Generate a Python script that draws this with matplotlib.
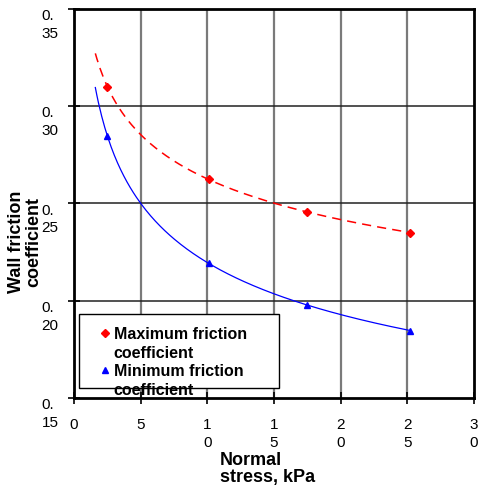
import numpy as np
import matplotlib.pyplot as plt
from matplotlib.lines import Line2D
from matplotlib.patches import Rectangle

plt.rcParams['font.family'] = ['Liberation Sans', 'DejaVu Sans']

# measured wall friction data
stress = [2.5, 10.1, 17.5, 25.2]
mu_max = [0.310, 0.2626, 0.2457, 0.2349]
mu_min = [0.2847, 0.2193, 0.1980, 0.1845]

x_ticks = [0, 5, 10, 15, 20, 25, 30]
x_ticklabels = ['0', '5', '1\n0', '1\n5', '2\n0', '2\n5', '3\n0']
y_ticks = [0.15, 0.20, 0.25, 0.30, 0.35]
y_ticklabels = ['0.\n15', '0.\n20', '0.\n25', '0.\n30', '0.\n35']

# power law trend lines  y = a * x^b
def power_fit(x, y):
    b, ln_a = np.polyfit(np.log(x), np.log(y), 1)
    return np.exp(ln_a), b

xfit = np.linspace(1.6, stress[-1], 200)
a1, b1 = power_fit(stress, mu_max)
a2, b2 = power_fit(stress, mu_min)

fig = plt.figure(figsize=(4.79, 4.94), dpi=100)
ax = fig.add_axes([74/479, 1 - 398/494, 400/479, 389/494])

for xv in x_ticks[1:-1]:
    ax.axvline(xv, color='#7a7a7a', lw=1.6, zorder=1)
for yv in y_ticks[1:-1]:
    ax.axhline(yv, color='#222222', lw=1.1, zorder=1)

ax.plot(xfit, a1 * xfit**b1, color='red', ls=(0, (6, 4)), lw=1.1, zorder=3)
ax.plot(xfit, a2 * xfit**b2, color='blue', lw=0.9, zorder=3)
ax.plot(stress, mu_max, ls='none', marker='D', ms=4, color='red', zorder=4)
ax.plot(stress, mu_min, ls='none', marker='^', ms=5, color='blue', zorder=4)

ax.set_xlim(0, 30)
ax.set_ylim(0.15, 0.35)
ax.set_xticks(x_ticks)
ax.set_xticklabels(x_ticklabels, fontsize=11, linespacing=1.35)
ax.set_yticks(y_ticks)
ax.set_yticklabels(y_ticklabels, fontsize=11, va='top', multialignment='left',
                   linespacing=1.35)
ax.tick_params(axis='both', direction='inout', length=9, width=1.2)
ax.tick_params(axis='x', pad=10)
ax.tick_params(axis='y', pad=6.5)
for s in ax.spines.values():
    s.set_linewidth(2)

fig.text(220/479, 1 - 452/494, 'Normal\nstress, kPa', fontsize=13,
         fontweight='bold', ha='left', va='top', linespacing=1.0)
fig.text(25/479, 1 - 242/494, 'Wall friction\ncoefficient', fontsize=13,
         fontweight='bold', rotation=90, ha='center', va='center',
         linespacing=1.0)

# legend box
fig.add_artist(Rectangle((79/479, 1 - 388/494), 200/479, 74/494,
                         transform=fig.transFigure, facecolor='white',
                         edgecolor='black', lw=1.0, zorder=5))
blank = Line2D([], [], ls='none', marker='none')
handles = [Line2D([], [], ls='none', marker='D', ms=4, color='red'), blank,
           Line2D([], [], ls='none', marker='^', ms=5, color='blue'), blank]
labels = ['Maximum friction', 'coefficient', 'Minimum friction', 'coefficient']
leg = fig.legend(handles, labels,
                 loc='upper left', bbox_to_anchor=(101/479, 1 - 327/494),
                 frameon=False, borderpad=0, borderaxespad=0,
                 handlelength=0.5, handletextpad=0.3, labelspacing=0.22,
                 prop={'size': 11.5, 'weight': 'bold'})
leg.set_zorder(6)

fig.savefig('out.png', dpi=100)
